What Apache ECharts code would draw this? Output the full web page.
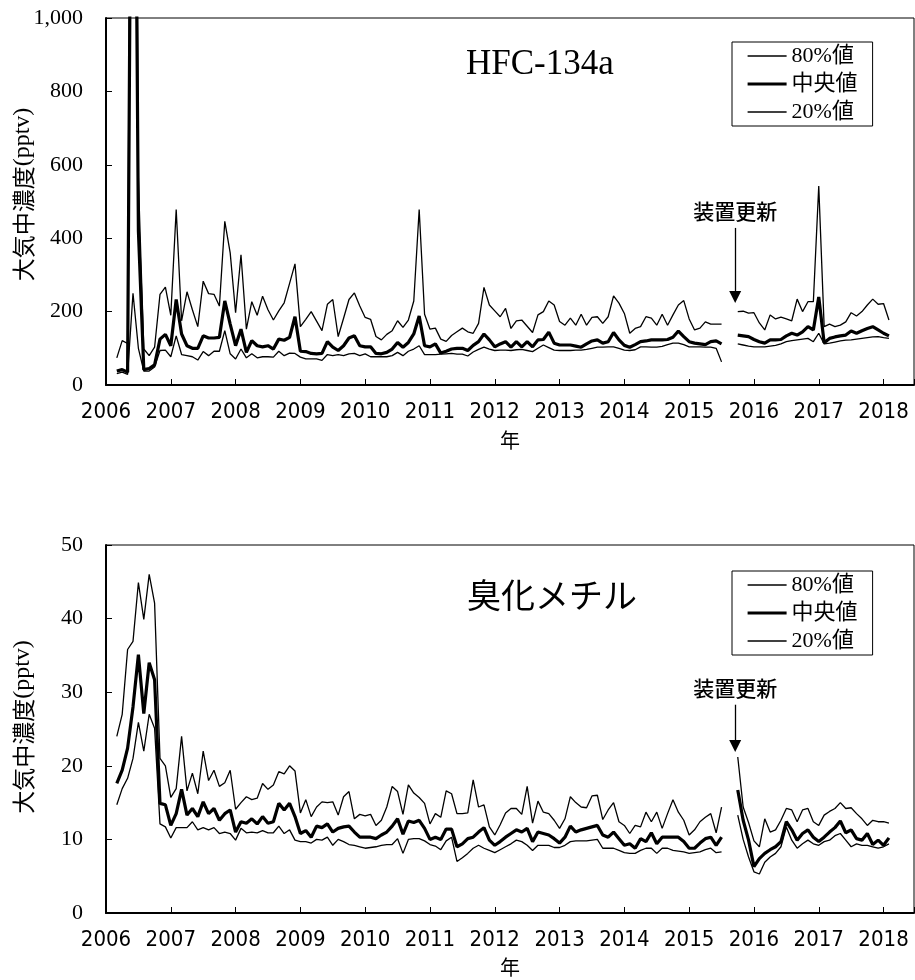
<!DOCTYPE html>
<html>
<head>
<meta charset="utf-8">
<script src="https://cdn.jsdelivr.net/npm/echarts@6/dist/echarts.min.js"></script>
<style>
  html, body { margin: 0; padding: 0; background: #fff; }
  #chart { width: 915px; height: 980px; }
</style>
</head>
<body>
<div id="chart"></div>
<script>
// Monthly statistics, March 2006 .. February 2018 (August/September 2015 not measured)
const firstYear = 2006;
const firstMonth = 3;
const monthCount = 144;
const monthPositions = [];
for (let k = 0; k < monthCount; k++) {
  monthPositions.push(firstYear + (firstMonth - 1 + k) / 12);
}

const seriesNames = ['80%値', '中央値', '20%値'];
const panelTitles = ['HFC-134a', '臭化メチル'];
const yAxisName = '{a|大気中濃度}{b|(pptv)}';
const xAxisName = '年';
const renewalLabel = '装置更新';
const renewalYear = 2015.71;
const hfcArrow = [428, 240];
const mbArrow = [28.3, 22.7];

// HFC-134a (pptv)
const hfc80 = [
  74, 121, 113, 3200, 560, 98, 80, 103, 247, 267,
  190, 478, 175, 254, 205, 159, 283, 249, 247, 215, 446, 360,
  197, 355, 152, 227, 190, 242, 205, 177, 202, 224, 277, 330,
  159, 179, 200, 174, 148, 220, 233, 132, 182, 233, 251, 215,
  184, 179, 132, 123, 138, 148, 175, 157, 177, 229, 478, 193,
  152, 155, 125, 119, 135, 145, 155, 145, 141, 168, 266, 218,
  202, 186, 209, 154, 175, 177, 160, 143, 191, 200, 229, 218,
  173, 163, 182, 163, 193, 163, 184, 186, 168, 186, 243, 223,
  195, 141, 154, 159, 186, 182, 163, 193, 163, 191, 218, 230,
  180, 150, 155, 172, 166, 166, 166, null, null, 200, 201, 196,
  197, 169, 150, 191, 180, 185, 180, 175, 234, 200, 227, 227,
  542, 159, 166, 159, 163, 172, 197, 188, 200, 218, 234, 220,
  222, 177
];
const hfcMedian = [
  38, 42, 35, 2400, 420, 42, 45, 55, 125, 138,
  107, 233, 139, 107, 100, 100, 134, 128, 128, 130, 229, 166,
  107, 152, 89, 121, 107, 104, 107, 98, 125, 122, 130, 186,
  92, 91, 86, 85, 86, 118, 103, 94, 107, 128, 134, 107,
  104, 104, 86, 85, 89, 98, 116, 103, 116, 139, 188, 107,
  104, 112, 87, 92, 98, 100, 100, 94, 108, 118, 139, 123,
  104, 112, 118, 103, 118, 104, 118, 104, 123, 124, 144, 114,
  109, 109, 109, 106, 103, 112, 120, 123, 114, 118, 143, 123,
  108, 103, 110, 118, 120, 123, 123, 123, 124, 130, 147, 132,
  118, 114, 112, 110, 118, 120, 112, null, null, 136, 134, 132,
  124, 118, 114, 123, 123, 124, 134, 141, 136, 145, 159, 150,
  240, 115, 127, 131, 134, 136, 147, 141, 148, 154, 159, 150,
  141, 134
];
const hfc20 = [
  31, 35, 29, 250, 100, 38, 38, 49, 94, 95,
  77, 134, 83, 80, 77, 68, 91, 80, 92, 92, 148, 85,
  71, 98, 74, 85, 74, 77, 77, 76, 92, 80, 87, 86,
  76, 71, 71, 71, 67, 83, 80, 83, 80, 85, 86, 80,
  85, 77, 77, 77, 77, 80, 89, 80, 92, 98, 107, 83,
  83, 83, 84, 85, 86, 84, 84, 79, 90, 97, 103, 98,
  94, 95, 95, 94, 96, 97, 94, 91, 100, 109, 102, 95,
  94, 94, 94, 95, 95, 97, 100, 103, 103, 104, 104, 100,
  95, 94, 96, 104, 104, 103, 103, 105, 110, 114, 114, 110,
  104, 104, 104, 103, 103, 100, 63, null, null, 112, 109, 106,
  104, 104, 104, 106, 108, 112, 118, 121, 123, 125, 127, 118,
  141, 112, 114, 117, 120, 122, 123, 125, 127, 129, 131, 132,
  129, 127
];

// Methyl bromide (pptv)
const mb80 = [
  24.0, 27.0, 35.8, 36.9, 44.9, 39.9, 46.0, 42.1, 21.0, 20.0,
  15.7, 16.9, 24.0, 16.6, 19.0, 16.2, 22.0, 18.0, 19.4, 17.2, 17.7, 19.4,
  14.1, 15.0, 15.8, 15.4, 15.6, 17.6, 16.8, 17.4, 19.2, 18.9, 20.0, 19.3,
  13.6, 15.4, 13.1, 14.4, 15.1, 15.0, 15.1, 13.3, 15.8, 16.5, 12.8, 13.4,
  13.2, 13.4, 11.9, 12.6, 14.4, 17.2, 16.5, 13.4, 17.4, 16.3, 15.7, 14.9,
  12.1, 13.5, 13.0, 16.6, 16.2, 13.5, 13.5, 13.6, 18.1, 14.4, 14.7, 11.7,
  10.6, 12.0, 13.6, 14.2, 14.2, 13.4, 17.2, 12.2, 15.2, 13.7, 13.5, 12.6,
  11.5, 12.8, 15.8, 15.0, 14.4, 14.3, 15.9, 16.0, 12.7, 14.0, 15.0, 12.4,
  11.9, 10.8, 11.9, 11.7, 13.7, 12.4, 13.7, 11.5, 13.5, 15.4, 13.7, 12.6,
  10.6, 11.3, 12.4, 13.0, 13.5, 10.9, 14.4, null, null, 21.2, 14.4, 12.3,
  9.8, 9.0, 12.8, 11.0, 11.3, 12.6, 14.2, 14.0, 12.4, 14.0, 14.2, 12.4,
  11.9, 13.3, 13.8, 14.2, 15.0, 14.2, 14.3, 13.5, 12.8, 11.9, 12.6, 12.4,
  12.4, 12.2
];
const mbMedian = [
  17.6, 19.4, 22.4, 28.0, 35.1, 27.1, 34.0, 31.7, 14.9, 14.7,
  11.9, 13.5, 16.8, 13.3, 14.2, 13.1, 15.1, 13.5, 14.2, 12.6, 13.5, 14.0,
  11.0, 12.4, 12.2, 12.8, 12.1, 13.1, 12.2, 12.4, 14.9, 14.0, 14.9, 13.1,
  10.8, 11.2, 10.3, 11.8, 11.6, 12.1, 11.0, 11.5, 11.7, 11.8, 11.0, 10.3,
  10.3, 10.3, 10.1, 10.6, 11.0, 11.8, 12.8, 10.7, 12.5, 12.3, 12.6, 11.5,
  10.0, 10.3, 10.0, 11.4, 11.4, 9.0, 9.4, 10.1, 10.3, 11.0, 11.6, 9.9,
  9.2, 9.7, 10.3, 10.8, 11.3, 11.0, 11.5, 9.7, 11.0, 10.8, 10.6, 10.1,
  9.5, 10.3, 11.8, 11.0, 11.3, 11.5, 11.7, 11.9, 10.6, 10.3, 11.0, 10.1,
  9.2, 9.4, 8.8, 10.1, 9.7, 10.9, 9.4, 10.3, 10.3, 10.3, 10.3, 9.7,
  8.8, 8.8, 9.5, 10.1, 10.3, 9.2, 10.3, null, null, 16.7, 12.6, 9.9,
  6.3, 7.4, 8.1, 8.6, 9.0, 9.7, 12.4, 11.3, 9.9, 10.8, 11.3, 10.3,
  9.7, 10.3, 11.0, 11.6, 12.5, 10.9, 11.3, 10.1, 9.9, 10.8, 9.3, 9.9,
  9.2, 10.2
];
const mb20 = [
  14.7, 16.9, 18.3, 21.0, 25.9, 22.0, 27.0, 25.1, 12.1, 11.7,
  10.2, 11.6, 11.6, 11.6, 12.4, 11.3, 11.6, 11.3, 11.6, 10.8, 11.0, 10.8,
  9.9, 11.5, 10.9, 11.0, 10.9, 11.2, 10.9, 10.9, 11.8, 10.8, 11.3, 9.9,
  9.7, 9.7, 9.5, 10.0, 9.9, 10.3, 9.2, 10.0, 9.7, 9.3, 9.2, 9.0,
  8.8, 8.9, 9.0, 9.2, 9.3, 9.3, 10.1, 8.1, 10.0, 10.1, 10.1, 9.8,
  9.3, 9.1, 8.6, 9.8, 10.3, 7.0, 7.5, 8.1, 8.8, 9.2, 8.8, 8.5,
  8.2, 8.6, 9.0, 9.4, 9.9, 9.7, 9.2, 8.5, 9.2, 9.2, 9.2, 8.9,
  8.9, 9.2, 9.7, 9.8, 9.8, 9.8, 9.9, 10.0, 8.8, 8.8, 8.8, 8.5,
  8.2, 8.1, 8.1, 8.5, 8.8, 8.8, 8.1, 8.8, 8.8, 8.5, 8.4, 8.3,
  8.1, 8.2, 8.3, 8.6, 8.8, 8.2, 8.3, null, null, 13.3, 10.0, 7.6,
  5.6, 5.3, 6.9, 7.6, 8.1, 9.0, 11.7, 9.9, 8.8, 9.4, 9.9, 9.4,
  9.2, 9.7, 9.9, 10.5, 10.8, 9.9, 9.0, 9.4, 9.2, 9.2, 9.0, 8.8,
  9.0, 9.4
];

const serif = "'Liberation Serif', 'Times New Roman', serif";
const cjk = "'Noto Sans CJK JP', sans-serif";
const narrow = "'Liberation Sans Narrow', 'DejaVu Sans Condensed', sans-serif";
const legendFont = "'Liberation Serif', 'Noto Sans CJK JP', serif";
const thin = 1.3;
const thick = 3.2;

function pairs(values) {
  return values.map((v, k) => [monthPositions[k], v]);
}

function panelSeries(gi, arrays, arrow) {
  const widths = [thin, thick, thin];
  return arrays.map((arr, j) => {
    const s = {
      type: 'line',
      name: seriesNames[j],
      xAxisIndex: gi,
      yAxisIndex: gi,
      data: pairs(arr),
      symbol: 'none',
      showSymbol: false,
      connectNulls: false,
      clip: true,
      silent: true,
      lineStyle: { color: '#000', width: widths[j] },
      itemStyle: { color: '#000' },
      z: j === 1 ? 3 : 2
    };
    if (j === 0) {
      s.markLine = {
        silent: true,
        symbol: ['none', 'triangle'],
        symbolSize: [12, 12],
        lineStyle: { color: '#000', width: 1.3, type: 'solid' },
        label: {
          show: true,
          position: 'start',
          distance: 6,
          formatter: renewalLabel,
          fontFamily: cjk,
          fontSize: 21,
          fontWeight: 500,
          color: '#000'
        },
        emphasis: { disabled: true },
        data: [[{ coord: [renewalYear, arrow[0]] }, { coord: [renewalYear, arrow[1]] }]]
      };
    }
    return s;
  });
}

function xAxisFor(gi, nameGap) {
  return {
    type: 'value',
    gridIndex: gi,
    min: 2006,
    max: 2018.47,
    interval: 1,
    name: xAxisName,
    nameLocation: 'middle',
    nameGap: nameGap,
    nameMoveOverlap: false,
    nameTextStyle: { fontFamily: cjk, fontSize: 20, color: '#000' },
    axisLine: { show: true, onZero: false, lineStyle: { color: '#000', width: 2 } },
    axisTick: { show: true, inside: true, length: 6, lineStyle: { color: '#000', width: 1 } },
    axisLabel: {
      margin: 16,
      fontFamily: narrow,
      fontSize: 22,
      color: '#000',
      formatter: v => (Math.abs(v - Math.round(v)) < 1e-6 ? String(Math.round(v)) : '')
    },
    splitLine: { show: false }
  };
}

function yAxisFor(gi, max, interval, shift) {
  return {
    type: 'value',
    gridIndex: gi,
    min: 0,
    max: max,
    interval: interval,
    name: yAxisName,
    nameLocation: 'middle',
    nameRotate: 90,
    nameGap: 71,
    nameMoveOverlap: false,
    nameTextStyle: {
      padding: [0, 0, 0, shift],
      rich: {
        a: { fontFamily: cjk, fontSize: 23, color: '#000' },
        b: { fontFamily: serif, fontSize: 24, color: '#000' }
      }
    },
    axisLine: { show: true, onZero: false, lineStyle: { color: '#000', width: 2 } },
    axisTick: { show: true, inside: true, length: 6, lineStyle: { color: '#000', width: 1 } },
    axisLabel: {
      margin: 23,
      fontFamily: serif,
      fontSize: 22,
      color: '#000',
      formatter: v => v.toLocaleString('en-US')
    },
    splitLine: { show: false }
  };
}

function legendFor(top) {
  const hiddenDot = { opacity: 0, borderWidth: 0 };
  return {
    top: top,
    left: 732,
    orient: 'vertical',
    itemWidth: 39,
    itemHeight: 14,
    itemGap: 6,
    padding: [3, 15, 3, 14],
    borderColor: '#000',
    borderWidth: 1,
    backgroundColor: '#fff',
    selectedMode: false,
    textStyle: { fontFamily: legendFont, fontSize: 22, color: '#000' },
    data: [
      { name: seriesNames[0], itemStyle: hiddenDot, lineStyle: { width: thin, color: '#000' } },
      { name: seriesNames[1], itemStyle: hiddenDot, lineStyle: { width: thick, color: '#000' } },
      { name: seriesNames[2], itemStyle: hiddenDot, lineStyle: { width: thin, color: '#000' } }
    ]
  };
}

const chart = echarts.init(document.getElementById('chart'), null, { renderer: 'canvas', devicePixelRatio: 1 });

chart.setOption({
  animation: false,
  backgroundColor: '#fff',
  title: [
    { text: panelTitles[0], left: 461, top: 42, padding: 5,
      textStyle: { fontFamily: serif, fontSize: 35, fontWeight: 'normal', color: '#000' } },
    { text: panelTitles[1], left: 462, top: 573, padding: 5,
      textStyle: { fontFamily: cjk, fontSize: 34, fontWeight: 'normal', color: '#000' } }
  ],
  legend: [legendFor(42), legendFor(571)],
  grid: [
    { left: 106, top: 18, width: 808, height: 367, show: true, borderColor: '#000', borderWidth: 1, backgroundColor: 'transparent', outerBoundsMode: 'none' },
    { left: 106, top: 545, width: 808, height: 368, show: true, borderColor: '#000', borderWidth: 1, backgroundColor: 'transparent', outerBoundsMode: 'none' }
  ],
  xAxis: [xAxisFor(0, 45), xAxisFor(1, 44)],
  yAxis: [yAxisFor(0, 1000, 200, 14), yAxisFor(1, 50, 10, 4)],
  series: [].concat(
    panelSeries(0, [hfc80, hfcMedian, hfc20], hfcArrow),
    panelSeries(1, [mb80, mbMedian, mb20], mbArrow)
  )
});
</script>
</body>
</html>
